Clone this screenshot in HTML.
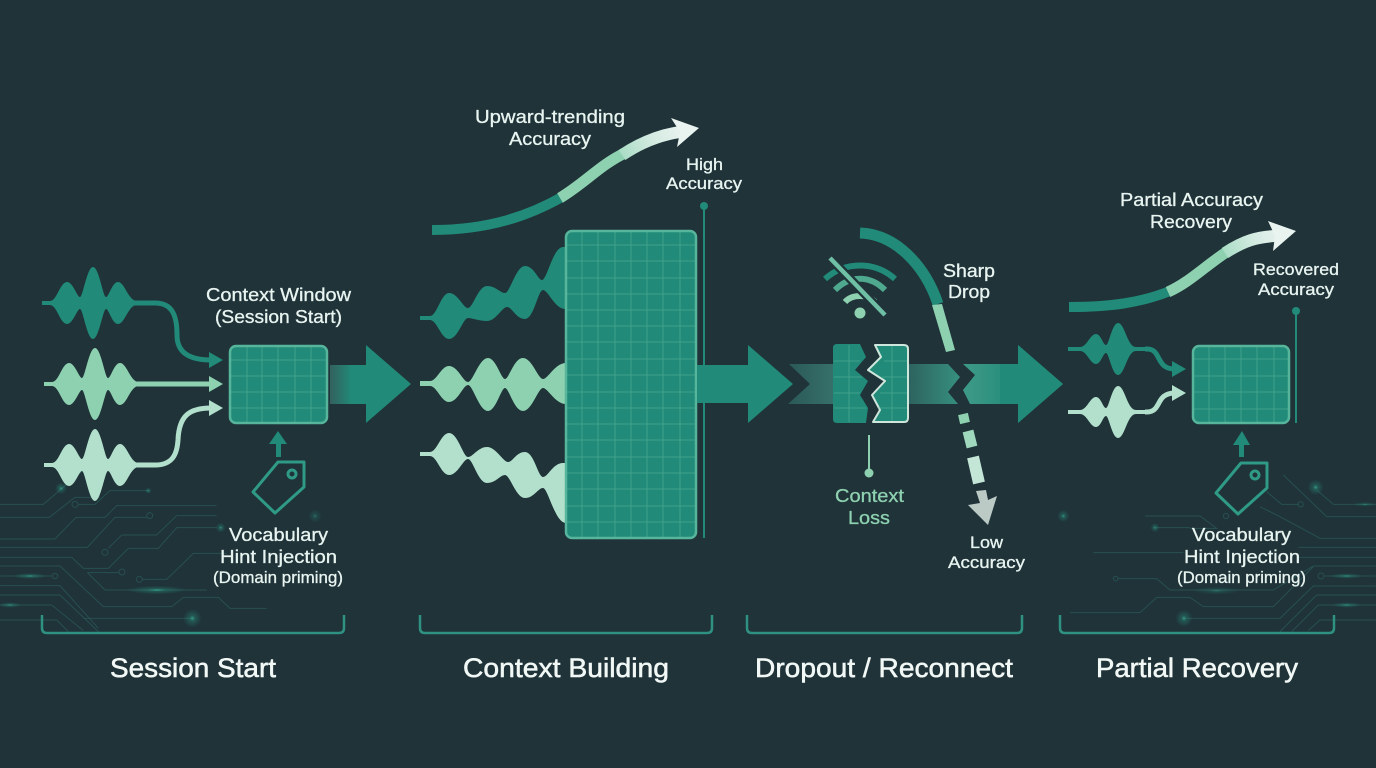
<!DOCTYPE html>
<html lang="en">
<head>
<meta charset="utf-8">
<title>Accuracy across session stages</title>
<style>
html,body{margin:0;padding:0;background:#1f3339;width:1376px;height:768px;overflow:hidden}
svg{display:block}
text{font-family:"Liberation Sans",sans-serif;fill:#e8f4f0;font-size:18px;stroke:#e8f4f0;stroke-width:.3px}
.s{font-size:16.5px}
.h{font-size:27px;stroke-width:.55px;fill:#f1f8f5;stroke:#f1f8f5}
.m{fill:#8ed1b0;stroke:#8ed1b0}
.c{fill:none;stroke:#2f6764;stroke-width:3;opacity:.55}
.g{stroke:#5dbaa2;stroke-width:1;opacity:.5;fill:none}
.box{fill:#218a78;stroke:#56b59b;stroke-width:2.5}
.br{fill:none;stroke:#2f9182;stroke-width:2.5}
</style>
</head>
<body>
<svg width="1376" height="768" viewBox="0 0 1376 768" xmlns="http://www.w3.org/2000/svg">
<defs>
<radialGradient id="glow"><stop offset="0" stop-color="#3fc9a5" stop-opacity=".7"/><stop offset=".3" stop-color="#2c9a84" stop-opacity=".35"/><stop offset="1" stop-color="#2c9a84" stop-opacity="0"/></radialGradient>
<linearGradient id="a1" x1="330" x2="366" gradientUnits="userSpaceOnUse" y1="0" y2="0"><stop offset="0" stop-color="#33605e"/><stop offset=".6" stop-color="#218a78"/></linearGradient>
<linearGradient id="a2" x1="790" x2="833" gradientUnits="userSpaceOnUse" y1="0" y2="0"><stop offset="0" stop-color="#2b5a58"/><stop offset="1" stop-color="#36706a"/></linearGradient>
<linearGradient id="a3" x1="908" x2="960" gradientUnits="userSpaceOnUse" y1="0" y2="0"><stop offset="0" stop-color="#2d625e"/><stop offset="1" stop-color="#36907f"/></linearGradient>
<linearGradient id="a4" x1="963" x2="1018" gradientUnits="userSpaceOnUse" y1="0" y2="0"><stop offset="0" stop-color="#3f9a88"/><stop offset="1" stop-color="#218a78"/></linearGradient>
<linearGradient id="t1" x1="620" x2="690" y1="160" y2="125" gradientUnits="userSpaceOnUse"><stop offset="0" stop-color="#a6dcc3"/><stop offset=".5" stop-color="#d5ebe2"/><stop offset="1" stop-color="#eef5f2"/></linearGradient>
<linearGradient id="t2" x1="1222" x2="1290" y1="256" y2="228" gradientUnits="userSpaceOnUse"><stop offset="0" stop-color="#a6dcc3"/><stop offset=".5" stop-color="#d5ebe2"/><stop offset="1" stop-color="#eef5f2"/></linearGradient>
<path id="w" d="M42 301H50C57 301 60 282 67 282C73 282 77 297 80 297C83 297 87 267 93 267C99 267 103 297 106 297C109 297 112 282 118 282C125 282 128 301 137 301V305C128 305 125 324 118 324C112 324 109 309 106 309C103 309 99 339 93 339C87 339 83 309 80 309C77 309 73 324 67 324C60 324 57 305 50 305H42Z"/>
<path id="sw" d="M1068 347H1080C1087 347 1090 334 1096 334C1101 334 1103 345 1106 345C1109 345 1112 323 1118 323C1125 323 1127 347 1136 347H1147V351H1136C1127 351 1125 375 1118 375C1112 375 1109 353 1106 353C1103 353 1101 364 1096 364C1090 364 1087 351 1080 351H1068Z"/>
</defs>

<rect width="1376" height="768" fill="#1f3339"/>

<!-- circuit left -->
<g transform="translate(0,460) scale(.33333)">
<path class="c" d="M0 133H130L250 30M235 133H285L330 92H445M0 172H148L225 112H300M0 237H165L228 172H315L350 137H650M0 262H262L345 172H440M0 292H215L250 325H325L385 265H475L530 203H650M325 265L365 225H470L530 167H650M0 318H180L310 440H515L550 412H655L690 445H800M0 348H155M262 338H355M262 338L315 390H620M428 358H500L580 280H680M0 377H180L295 505M0 405H180L295 515M0 435H155L250 512M0 480H170L205 515M250 475H570"/>
<circle class="c" cx="225" cy="133" r="9"/><circle class="c" cx="449" cy="167" r="9"/><circle class="c" cx="315" cy="277" r="9"/><circle class="c" cx="165" cy="348" r="8"/><circle class="c" cx="366" cy="336" r="9"/><circle class="c" cx="418" cy="358" r="9"/>
<ellipse cx="90" cy="348" rx="50" ry="9" fill="url(#glow)"/><ellipse cx="470" cy="390" rx="90" ry="13" fill="url(#glow)"/><ellipse cx="30" cy="435" rx="35" ry="8" fill="url(#glow)"/>
<circle cx="577" cy="475" r="28" fill="url(#glow)"/><circle cx="662" cy="203" r="15" fill="url(#glow)"/><circle cx="945" cy="168" r="20" fill="url(#glow)" opacity=".6"/><circle cx="183" cy="85" r="18" fill="url(#glow)"/><circle cx="445" cy="92" r="10" fill="url(#glow)"/>
</g>

<!-- circuit right -->
<g transform="translate(1050,460) scale(.33333)">
<path class="c" d="M700 45L830 170H978M800 90L850 133H978M650 95L695 133H745M630 140L690 170L810 235H978M745 262H978M745 292H978M790 318H978M825 348H978M285 168H450L500 205H420M320 203H420M130 278H400M205 356H320L360 390H670L790 318M60 458H270L320 412H420L460 440H670L790 320M410 475H690L790 378H978M690 515L800 405H978M725 515L805 435H978M775 512L810 480H978"/>
<circle class="c" cx="752" cy="133" r="8"/><circle class="c" cx="813" cy="348" r="9"/><circle class="c" cx="197" cy="356" r="7"/><circle class="c" cx="528" cy="168" r="8"/>
<ellipse cx="890" cy="348" rx="50" ry="8" fill="url(#glow)"/><ellipse cx="890" cy="435" rx="45" ry="8" fill="url(#glow)"/><ellipse cx="500" cy="392" rx="70" ry="12" fill="url(#glow)" opacity=".6"/><ellipse cx="945" cy="133" rx="35" ry="7" fill="url(#glow)" opacity=".7"/>
<circle cx="402" cy="475" r="26" fill="url(#glow)"/><circle cx="40" cy="168" r="18" fill="url(#glow)"/><circle cx="315" cy="203" r="14" fill="url(#glow)"/><circle cx="797" cy="82" r="24" fill="url(#glow)"/>
</g>

<!-- Session Start waves -->
<path d="M135 303H155C172 303 177 315 177 335C177 353 190 360 211 360" fill="none" stroke="#218a78" stroke-width="5"/>
<path d="M135 384H211" fill="none" stroke="#8ed1b0" stroke-width="5"/>
<path d="M135 465H155C172 465 177 455 178 440C179 415 190 408 211 408" fill="none" stroke="#b3e0cc" stroke-width="5"/>
<use href="#w" fill="#218a78"/>
<use href="#w" x="2" y="81" fill="#8ed1b0"/>
<use href="#w" x="2" y="162" fill="#b3e0cc"/>
<polygon points="209,352 223,360 209,368" fill="#218a78"/>
<polygon points="209,376 223,384 209,392" fill="#8ed1b0"/>
<polygon points="209,400 223,408 209,416" fill="#b3e0cc"/>

<!-- context window 1 -->
<rect class="box" x="230" y="346" width="97" height="77" rx="6"/>
<path class="g" d="M247 347V422M262 347V422M278 347V422M295 347V422M311 347V422M231 360H326M231 376H326M231 392H326M231 408H326"/>
<polygon points="330,365 366,365 366,345 411,384 366,423 366,404 330,404" fill="url(#a1)"/>
<polygon points="278,431 287,444 281,444 281,457 276,457 276,444 269,444" fill="#218a78"/>
<g fill="none" stroke="#2f9a86" stroke-width="3" stroke-linejoin="round">
<path d="M278 462H304V487L275 513L253 492Z"/><circle cx="292" cy="474" r="4"/>
</g>

<!-- Context Building -->
<path d="M432 230C490 230 530 215 562 197" fill="none" stroke="#218a78" stroke-width="10"/>
<path d="M560 198C585 183 600 165 625 153" fill="none" stroke="#8ed1b0" stroke-width="11"/>
<path d="M622 155C640 143 660 135 680 132" fill="none" stroke="url(#t1)" stroke-width="12"/>
<polygon points="671,118 699,128 677,147 680,132" fill="#e9f3ef"/>

<path d="M420 316H430C437 316 441 293 449 293C458 293 463 308 468 308C473 308 478 286 487 286C496 286 500 293 505 293C510 293 516 266 525 266C534 266 538 280 542 280C547 280 553 247 563 247H566V309H565C555 309 548 290 543 290C538 290 534 319 525 319C516 319 512 307 507 307C502 307 496 321 487 321C478 321 473 318 468 318C463 318 458 339 449 339C441 339 437 320 430 320H420Z" fill="#218a78"/>
<path d="M420 381H430C437 381 441 366 449 366C458 366 463 382 468 382C473 382 479 358 488 358C496 358 501 379 505 379C509 379 514 358 523 358C532 358 538 379 543 379C548 379 555 363 566 363V404C555 404 548 388 543 388C538 388 532 411 523 411C514 411 509 388 505 388C501 388 496 411 488 411C479 411 473 385 468 385C463 385 458 402 449 402C441 402 437 386 430 386H420Z" fill="#8ed1b0"/>
<path d="M420 452H430C437 452 441 433 449 433C458 433 463 457 468 457C473 457 478 447 487 447C496 447 503 462 508 462C513 462 516 452 525 452C534 452 538 477 543 477C548 477 553 463 563 463H566V523C555 523 548 488 543 488C538 488 534 498 525 498C516 498 510 475 505 475C500 475 496 483 487 483C478 483 473 459 468 459C463 459 458 475 449 475C441 475 437 456 430 456H420Z" fill="#b3e0cc"/>

<line x1="704" y1="206" x2="704" y2="538" stroke="#218a78" stroke-width="2"/>
<circle cx="704" cy="206" r="4" fill="#218a78"/>
<rect class="box" x="566" y="231" width="130" height="307" rx="6"/>
<path class="g" d="M582 232V537M598 232V537M615 232V537M631 232V537M647 232V537M663 232V537M680 232V537M567 245H695M567 261H695M567 278H695M567 294H695M567 310H695M567 326H695M567 342H695M567 359H695M567 375H695M567 392H695M567 408H695M567 424H695M567 440H695M567 457H695M567 473H695M567 489H695M567 506H695M567 522H695"/>
<polygon points="697,365 748,365 748,345 793,384 748,423 748,403 697,403" fill="#218a78"/>

<!-- Dropout -->
<polygon points="789,364 833,364 833,404 788,404 810,384" fill="url(#a2)"/>
<polygon points="908,364 948,364 960,377 948,392 958,404 908,404" fill="url(#a3)"/>
<polygon points="963,364 1018,364 1018,345 1063,384 1018,423 1018,404 970,404 963,390 975,375" fill="url(#a4)"/>
<polygon points="1000,364 1018,364 1018,345 1063,384 1018,423 1018,404 1000,404" fill="#218a78"/>

<path d="M837 344H860L866 357L855 370L868 381L860 395L868 408L866 423H837Q833 423 833 419V348Q833 344 837 344Z" fill="#218a78"/>
<path class="g" d="M849 345V422M834 361H860M834 377H862M834 393H860M834 408H866"/>
<path d="M875 345H904Q908 345 908 349V418Q908 422 904 422H873L880 410L872 395L885 381L868 370L881 357Z" fill="#218a78" stroke="#cfe6dc" stroke-width="2" stroke-linejoin="round"/>
<path class="g" d="M892 346V421M884 361H907M882 377H907M880 393H907M878 408H907"/>

<line x1="869" y1="435" x2="869" y2="470" stroke="#8ed1b0" stroke-width="2"/>
<circle cx="869" cy="473" r="4.5" fill="#8ed1b0"/>

<!-- wifi -->
<g fill="none" stroke-width="6">
<path d="M825 279C845 261 875 261 895 279" stroke="#218a78"/>
<path d="M835 290C850 275 870 275 885 290" stroke="#4fa98f"/>
<path d="M845 302C852 294 868 294 875 302" stroke="#8ed1b0"/>
<path d="M830 258L885 315" stroke="#1f3339" stroke-width="9"/>
<path d="M830 258L885 315" stroke="#6fbfa5" stroke-width="4.5"/>
</g>
<circle cx="860" cy="313" r="5.5" fill="#8ed1b0"/>

<!-- sharp drop -->
<path d="M860 233C895 234 925 265 938 304" fill="none" stroke="#218a78" stroke-width="11"/>
<polygon points="932,305 942,304 955,350 946,352" fill="#8ed1b0"/>
<line x1="963" y1="414" x2="965" y2="423" stroke="#8ed1b0" stroke-width="10"/>
<line x1="968" y1="431" x2="972" y2="447" stroke="#a0d8bd" stroke-width="11"/>
<line x1="973" y1="457" x2="979" y2="483" stroke="#c3e6d7" stroke-width="12"/>
<polygon points="976,491 986,490 988,500 997,496 988,525 968,505 980,503" fill="#bccac6"/>

<!-- Partial recovery -->
<path d="M1069 307C1110 307 1140 303 1170 291" fill="none" stroke="#218a78" stroke-width="10"/>
<path d="M1168 292C1190 282 1205 266 1228 251" fill="none" stroke="#8ed1b0" stroke-width="11"/>
<path d="M1225 253C1245 240 1258 237 1275 236" fill="none" stroke="url(#t2)" stroke-width="12"/>
<polygon points="1268,221 1296,231 1273,251 1275,236" fill="#e9f3ef"/>

<use href="#sw" fill="#218a78"/>
<use href="#sw" y="63" fill="#b3e0cc"/>
<path d="M1145 349H1147C1162 349 1155 369 1175 369" fill="none" stroke="#218a78" stroke-width="5"/>
<path d="M1145 412H1147C1162 412 1155 393 1175 393" fill="none" stroke="#b3e0cc" stroke-width="5"/>
<polygon points="1172,361 1186,369 1172,377" fill="#218a78"/>
<polygon points="1172,385 1186,393 1172,401" fill="#b3e0cc"/>

<rect class="box" x="1193" y="346" width="96" height="77" rx="6"/>
<path class="g" d="M1209 347V422M1225 347V422M1241 347V422M1257 347V422M1274 347V422M1194 359H1288M1194 376H1288M1194 392H1288M1194 409H1288"/>
<line x1="1296" y1="311" x2="1296" y2="423" stroke="#218a78" stroke-width="2"/>
<circle cx="1296" cy="311" r="4" fill="#218a78"/>
<polygon points="1242,431 1250,445 1244,445 1244,457 1239,457 1239,445 1233,445" fill="#218a78"/>
<g fill="none" stroke="#2f9a86" stroke-width="3" stroke-linejoin="round" transform="translate(963,1)">
<path d="M278 462H304V487L275 513L253 492Z"/><circle cx="292" cy="474" r="4"/>
</g>

<!-- brackets -->
<path class="br" d="M42 615V628Q42 633 47 633H339Q344 633 344 628V615"/>
<path class="br" d="M420 615V628Q420 633 425 633H707Q712 633 712 628V615"/>
<path class="br" d="M747 615V628Q747 633 752 633H1017Q1022 633 1022 628V615"/>
<path class="br" d="M1060 615V628Q1060 633 1065 633H1329Q1334 633 1334 628V615"/>

<!-- labels -->
<text x="206" y="301" textLength="145" lengthAdjust="spacingAndGlyphs">Context Window</text>
<text x="215" y="323" textLength="127" lengthAdjust="spacingAndGlyphs">(Session Start)</text>
<text x="229" y="541" textLength="99" lengthAdjust="spacingAndGlyphs">Vocabulary</text>
<text x="220" y="563" textLength="117" lengthAdjust="spacingAndGlyphs">Hint Injection</text>
<text class="s" x="213" y="583" textLength="130" lengthAdjust="spacingAndGlyphs">(Domain priming)</text>

<text x="475" y="123" textLength="150" lengthAdjust="spacingAndGlyphs">Upward-trending</text>
<text x="509" y="145" textLength="82" lengthAdjust="spacingAndGlyphs">Accuracy</text>
<text class="s" x="686" y="170" textLength="37" lengthAdjust="spacingAndGlyphs">High</text>
<text class="s" x="666" y="189" textLength="76" lengthAdjust="spacingAndGlyphs">Accuracy</text>

<text x="943" y="277" textLength="52" lengthAdjust="spacingAndGlyphs">Sharp</text>
<text x="948" y="298" textLength="42" lengthAdjust="spacingAndGlyphs">Drop</text>
<text class="m" x="835" y="502" textLength="69" lengthAdjust="spacingAndGlyphs">Context</text>
<text class="m" x="848" y="524" textLength="42" lengthAdjust="spacingAndGlyphs">Loss</text>
<text class="s" x="970" y="548" textLength="33" lengthAdjust="spacingAndGlyphs">Low</text>
<text class="s" x="948" y="568" textLength="77" lengthAdjust="spacingAndGlyphs">Accuracy</text>

<text x="1120" y="206" textLength="143" lengthAdjust="spacingAndGlyphs">Partial Accuracy</text>
<text x="1150" y="228" textLength="82" lengthAdjust="spacingAndGlyphs">Recovery</text>
<text class="s" x="1253" y="275" textLength="86" lengthAdjust="spacingAndGlyphs">Recovered</text>
<text class="s" x="1258" y="295" textLength="76" lengthAdjust="spacingAndGlyphs">Accuracy</text>
<text x="1192" y="541" textLength="99" lengthAdjust="spacingAndGlyphs">Vocabulary</text>
<text x="1184" y="563" textLength="116" lengthAdjust="spacingAndGlyphs">Hint Injection</text>
<text class="s" x="1177" y="583" textLength="129" lengthAdjust="spacingAndGlyphs">(Domain priming)</text>

<text class="h" x="110" y="677" textLength="166" lengthAdjust="spacingAndGlyphs">Session Start</text>
<text class="h" x="463" y="677" textLength="206" lengthAdjust="spacingAndGlyphs">Context Building</text>
<text class="h" x="755" y="677" textLength="258" lengthAdjust="spacingAndGlyphs">Dropout / Reconnect</text>
<text class="h" x="1096" y="677" textLength="202" lengthAdjust="spacingAndGlyphs">Partial Recovery</text>
</svg>
</body>
</html>
